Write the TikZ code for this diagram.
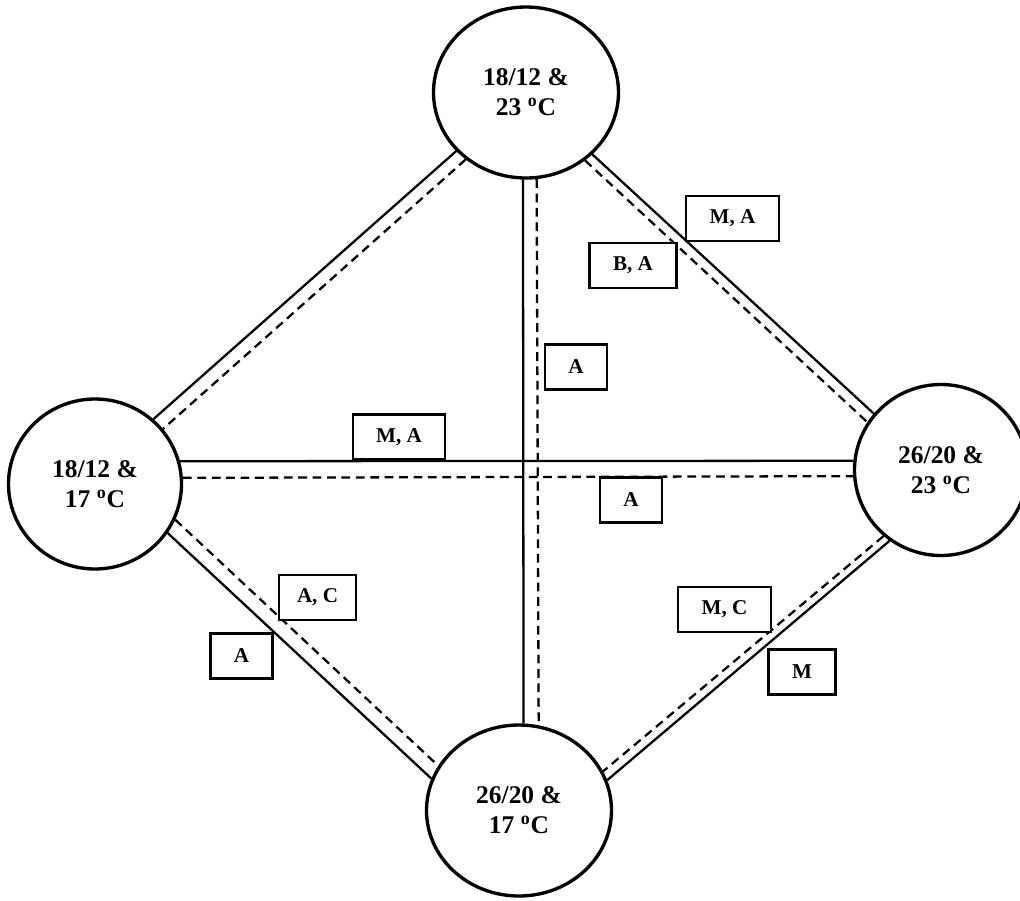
\documentclass[tikz,border=0pt]{standalone}
\usepackage{fontspec}
\setmainfont{Liberation Serif}
\usetikzlibrary{shapes.geometric}
\tikzset{
  temp/.style={draw, ellipse, line width=1.9pt, fill=white, align=center, inner sep=0pt,
    font=\fontsize{14.5}{17}\selectfont\bfseries},
  gen/.style={draw, line width=1.3pt, fill=white, minimum height=0.9cm, inner xsep=0.47cm,
    font=\fontsize{12}{14}\selectfont\bfseries},
  link/.style={line width=1.3pt},
  dlink/.style={line width=1.3pt, dash pattern=on 5pt off 3.2pt}
}
\begin{document}
\begin{tikzpicture}
  \useasboundingbox (0,0) rectangle (20.4,-18);
  %draw temperature circles
  \node[temp, minimum width=3.7cm, minimum height=3.42cm] (T1823) at (10.52,-1.85) {18/12 \&\\23 \textsuperscript{o}C};
  \node[temp, minimum width=3.46cm, minimum height=3.4cm] (T1817) at (1.90,-9.68) {18/12 \&\\17 \textsuperscript{o}C};
  \node[temp, minimum width=3.46cm, minimum height=3.42cm] (T2623) at (18.82,-9.40) {26/20 \&\\23 \textsuperscript{o}C};
  \node[temp, minimum width=3.7cm, minimum height=3.42cm] (T2617) at (10.38,-16.21) {26/20 \&\\17 \textsuperscript{o}C};
  %draw top to left
  \draw[link] (T1823.220.8) -- (T1817.48.2);
  \draw[dlink] (T1823.228.9) -- (T1817.39.8);
  %draw top to right
  \draw[link] (T1823.317.5) -- (T2623.140.9);
  \draw[dlink] (T1823.311.8) -- (T2623.147);
  %draw top to bottom
  \draw[link] (T1823.268) -- (T2617.87.3);
  \draw[dlink] (T1823.277.9) -- (T2617.77.4);
  %draw left to right
  \draw[link] (T1817.15.2) -- (T2623.174.1);
  \draw[dlink] (T1817.4.6) -- (T2623.184.6);
  %draw left to bottom
  \draw[link] (T1817.326.8) -- (T2617.160.7);
  \draw[dlink] (T1817.336.7) -- (T2617.151.4);
  %draw right to bottom
  \draw[link] (T2623.234.8) -- (T2617.19.9);
  \draw[dlink] (T2623.229.2) -- (T2617.25.5);
  %insert labels of connections
  \node[gen] (maTR) at (14.65,-4.37) {M, A};
  \node[gen] (baTR) at (12.66,-5.31) {B, A};
  \node[gen] (aV) at (11.52,-7.34) {A};
  \node[gen] (maH) at (7.98,-8.74) {M, A};
  \node[gen] (aH) at (12.62,-10.0) {A};
  \node[gen, inner xsep=0.36cm] (acBL) at (6.35,-11.95) {A, C};
  \node[gen] (aBL) at (4.83,-13.12) {A};
  \node[gen] (mcBR) at (14.49,-12.19) {M, C};
  \node[gen] (mBR) at (16.04,-13.44) {M};
\end{tikzpicture}
\end{document}
